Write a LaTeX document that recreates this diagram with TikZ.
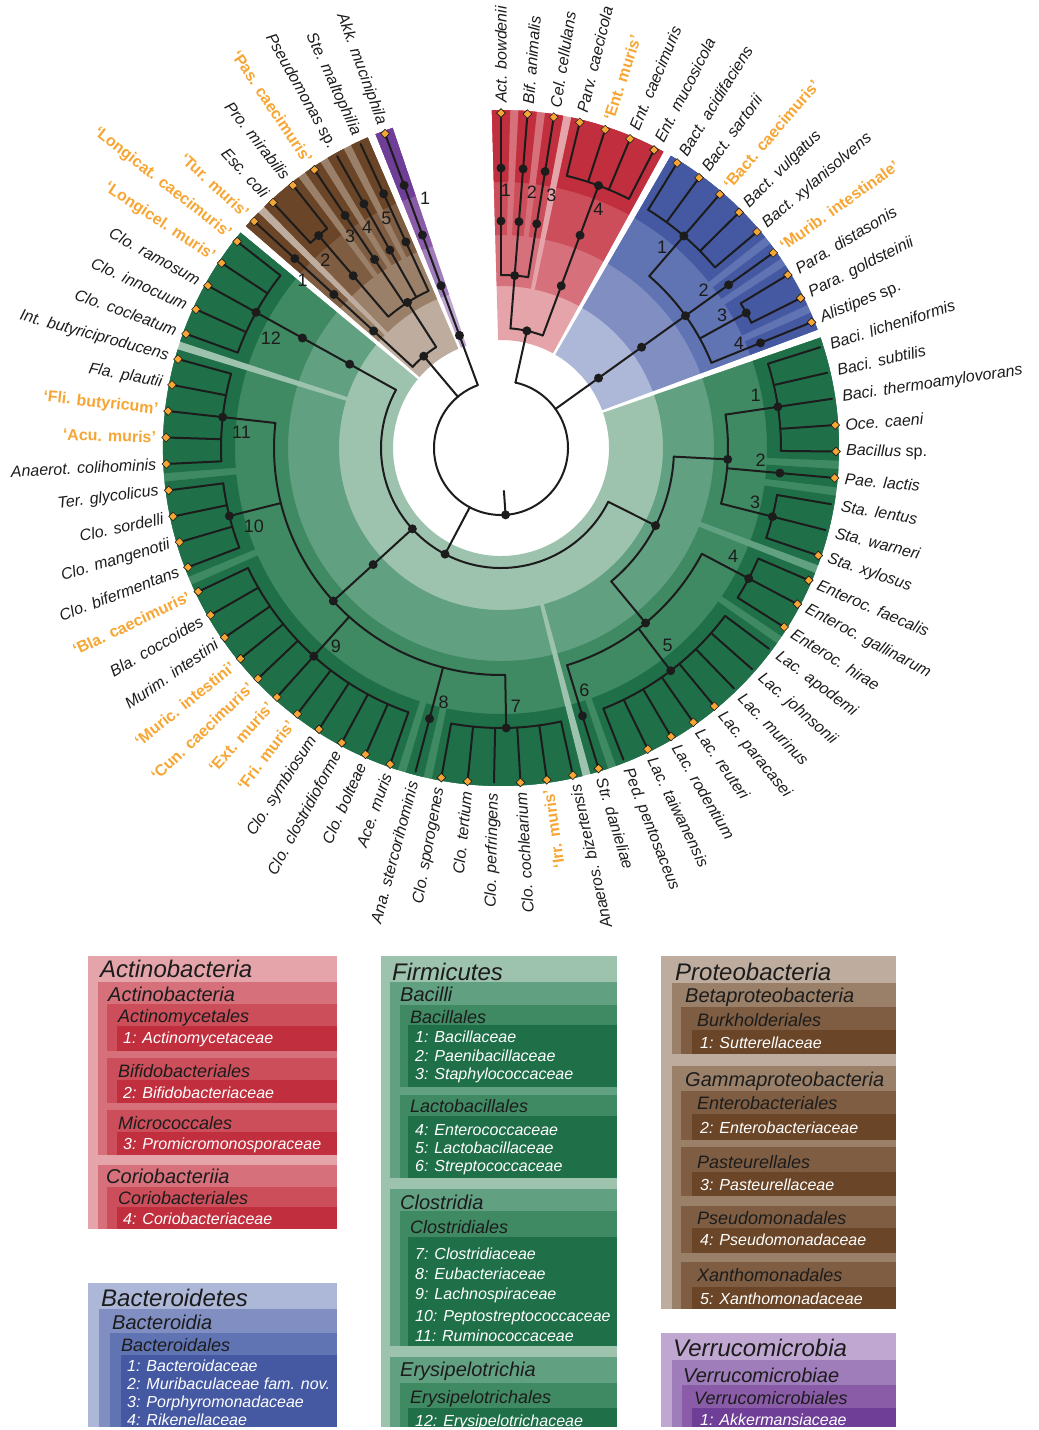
\documentclass[tikz,border=0pt]{standalone}
\usepackage{fontspec}
\setmainfont{Liberation Sans}
\usetikzlibrary{shapes.geometric}
\definecolor{cink}{HTML}{1C1C1C}
\definecolor{corange}{HTML}{F6A634}
\definecolor{cred1}{HTML}{E5A4AA}
\definecolor{cred2}{HTML}{D6707A}
\definecolor{cred3}{HTML}{CB4E5A}
\definecolor{cred4}{HTML}{C12F3E}
\definecolor{cblue1}{HTML}{ADB7D8}
\definecolor{cblue2}{HTML}{808EC2}
\definecolor{cblue3}{HTML}{6073B3}
\definecolor{cblue4}{HTML}{4559A3}
\definecolor{cgreen1}{HTML}{9DC3AF}
\definecolor{cgreen2}{HTML}{62A082}
\definecolor{cgreen3}{HTML}{3F8A63}
\definecolor{cgreen4}{HTML}{1F7048}
\definecolor{cbrown1}{HTML}{BEAD9E}
\definecolor{cbrown2}{HTML}{9A8068}
\definecolor{cbrown3}{HTML}{7E5D42}
\definecolor{cbrown4}{HTML}{6A4527}
\definecolor{cpurple1}{HTML}{C0A7D1}
\definecolor{cpurple2}{HTML}{9F7CBA}
\definecolor{cpurple3}{HTML}{8A5CA8}
\definecolor{cpurple4}{HTML}{6F3E96}
\tikzset{
Edge/.style={
	draw=cink,
	line width=2pt,
	line cap=round
},
Knot/.style={
	circle, fill=cink,
	inner sep=0, minimum size=9pt
},
StdTip/.style={
	diamond, draw=cink, fill=corange,
	line width=0.6pt,
	inner sep=0, minimum size=9pt
},
IsoTip/.style={
	StdTip
},
BareTip/.style={
	inner sep=0, minimum size=0pt
},
StdLabel/.style={
	font=\fontsize{16}{18}\selectfont\itshape,
	text=cink, inner sep=1pt
},
BareLabel/.style={
	StdLabel
},
IsoLabel/.style={
	font=\fontsize{16}{18}\selectfont\bfseries,
	text=corange, inner sep=1pt
},
FamNum/.style={
	font=\fontsize{18}{20}\selectfont,
	text=cink, inner sep=0
},
LegPhylum/.style={
	anchor=base west, inner sep=0,
	font=\fontsize{24}{26}\selectfont\itshape,
	text=cink
},
LegClass/.style={
	LegPhylum,
	font=\fontsize{20}{22}\selectfont\itshape
},
LegOrder/.style={
	LegPhylum,
	font=\fontsize{18}{20}\selectfont\itshape
},
LegFamily/.style={
	LegPhylum,
	font=\fontsize{16}{18}\selectfont\itshape,
	text=white
}
}
\newcommand\Band[4]{%
	\pgfmathsetmacro\bandA{90-4.53*#3+1.55}%
	\pgfmathsetmacro\bandB{90-4.53*#4-1.55}%
	\fill[#1] (\bandA:#2) arc[start angle=\bandA, end angle=\bandB, radius=#2]
		-- (\bandB:338) arc[start angle=\bandB, end angle=\bandA, radius=338] -- cycle;}
\newcommand\Stem[3]{\draw[Edge] (#1:#2) -- (#1:#3);}
\newcommand\Span[3]{\draw[Edge] (#2:#1) arc[start angle=#2, end angle=#3, radius=#1];}

\begin{document}
\begin{tikzpicture}[x=1pt, y=1pt]
	\useasboundingbox (0,0) rectangle (1039,-1430);
	\begin{scope}[shift={(501,-448)}]
	% coloured taxon bands
	\Band{cred1}{108}{0}{6}
	\Band{cblue1}{108}{7}{15}
	\Band{cgreen1}{108}{16}{68}
	\Band{cbrown1}{108}{69}{74}
	\Band{cpurple1}{108}{75}{75}
	\foreach \p/\q in {0/2, 3/6} {\Band{cred2}{162}{\p}{\q}}
	\foreach \p/\q in {0/0, 1/1, 2/2, 3/6} {\Band{cred3}{213}{\p}{\q}}
	\foreach \p/\q in {0/0, 1/1, 2/2, 3/6} {\Band{cred4}{266}{\p}{\q}}
	\Band{cblue2}{162}{7}{15}
	\Band{cblue3}{213}{7}{15}
	\foreach \p/\q in {7/11, 12/12, 13/14, 15/15} {\Band{cblue4}{266}{\p}{\q}}
	\foreach \p/\q in {16/36, 37/63, 64/68} {\Band{cgreen2}{162}{\p}{\q}}
	\foreach \p/\q in {16/24, 25/36, 37/63, 64/68} {\Band{cgreen3}{213}{\p}{\q}}
	\foreach \p/\q in {16/20, 21/21, 22/24, 25/27, 28/35, 36/36, 37/42, 43/43, 44/54, 55/58, 59/63, 64/68} {\Band{cgreen4}{266}{\p}{\q}}
	\foreach \p/\q in {69/69, 70/74} {\Band{cbrown2}{162}{\p}{\q}}
	\foreach \p/\q in {69/69, 70/71, 72/72, 73/73, 74/74} {\Band{cbrown3}{213}{\p}{\q}}
	\foreach \p/\q in {69/69, 70/71, 72/72, 73/73, 74/74} {\Band{cbrown4}{266}{\p}{\q}}
	\Band{cpurple2}{162}{75}{75}
	\Band{cpurple3}{213}{75}{75}
	\Band{cpurple4}{266}{75}{75}

	% root
	\Span{67}{77.5425}{-249.75}
	\Stem{-86.104}{43}{67}
	% Actinobacteria
	\Stem{77.5425}{67}{120}
	\Span{120}{85.47}{69.615}
	\Stem{85.47}{120}{173}
	\Span{173}{90}{80.94}
	\Stem{69.615}{120}{280}
	\Span{280}{76.41}{62.82}
	% Bacteroidetes
	\Stem{35.64}{67}{227}
	\Span{227}{49.23}{22.05}
	\Stem{49.23}{227}{280}
	\Span{280}{58.29}{40.17}
	\Stem{28.845}{227}{280}
	\Span{280}{31.11}{26.58}
	% Firmicutes
	\Stem{-117.81}{67}{120}
	\Span{120}{-26.6475}{-208.98}
	\Stem{-26.6475}{120}{173}
	\Span{173}{-2.865}{-50.43}
	\Stem{-2.865}{173}{227}
	\Span{227}{8.46}{-14.19}
	\Stem{8.46}{227}{280}
	\Span{280}{17.52}{-0.60}
	\Stem{-14.19}{227}{280}
	\Span{280}{-9.66}{-18.72}
	\Stem{-50.43}{173}{227}
	\Span{227}{-27.78}{-73.08}
	\Stem{-27.78}{227}{280}
	\Span{280}{-23.25}{-32.31}
	\Stem{-52.695}{227}{280}
	\Span{280}{-36.84}{-68.55}
	\Stem{-137.6325}{120}{227}
	\Span{227}{-88.935}{-186.33}
	\Stem{-88.935}{227}{280}
	\Span{280}{-77.61}{-100.26}
	\Stem{-131.97}{227}{280}
	\Span{280}{-109.32}{-154.62}
	\Stem{-165.945}{227}{280}
	\Span{280}{-159.15}{-172.74}
	\Stem{-186.33}{227}{280}
	\Span{280}{-177.27}{-195.39}
	\Stem{-208.98}{120}{280}
	\Span{280}{-199.92}{-218.04}
	% Proteobacteria
	\Stem{-229.93}{67}{120}
	\Span{120}{-222.57}{-237.2925}
	\Stem{-237.2925}{120}{173}
	\Span{173}{-229.365}{-245.22}
	\Stem{-229.365}{173}{280}
	\Span{280}{-227.10}{-231.63}

	% leaves
	\foreach \i/\taxname/\kind/\rbase in {
		0/Act. bowdenii/Std/173, 1/Bif. animalis/Std/173, 2/Cel. cellulans/Std/173,
		3/Parv. caecicola/Std/280, 4/‘Ent. muris’/Iso/280, 5/Ent. caecimuris/Std/280,
		6/Ent. mucosicola/Std/280, 7/Bact. acidifaciens/Std/280, 8/Bact. sartorii/Std/280,
		9/‘Bact. caecimuris’/Iso/280, 10/Bact. vulgatus/Std/280, 11/Bact. xylanisolvens/Std/280,
		12/‘Murib. intestinale’/Iso/227, 13/Para. distasonis/Std/280, 14/Para. goldsteinii/Std/280,
		15/{Alistipes \upshape sp.}/Std/227, 16/Baci. licheniformis/Bare/280, 17/Baci. subtilis/Bare/280,
		18/Baci. thermoamylovorans/Bare/280, 19/Oce. caeni/Std/280, 20/{Bacillus \upshape sp.}/Std/280,
		21/Pae. lactis/Std/227, 22/Sta. lentus/Bare/280, 23/Sta. warneri/Bare/280,
		24/Sta. xylosus/Std/280, 25/Enteroc. faecalis/Std/280, 26/Enteroc. gallinarum/Std/280,
		27/Enteroc. hirae/Std/280, 28/Lac. apodemi/Bare/280, 29/Lac. johnsonii/Bare/280,
		30/Lac. murinus/Bare/280, 31/Lac. paracasei/Std/280, 32/Lac. reuteri/Std/280,
		33/Lac. rodentium/Std/280, 34/Lac. taiwanensis/Std/280, 35/Ped. pentosaceus/Bare/280,
		36/Str. danieliae/Std/227, 37/Anaeros. bizertensis/Std/280, 38/‘Irr. muris’/Iso/280,
		39/Clo. cochlearium/Std/280, 40/Clo. perfringens/Bare/280, 41/Clo. tertium/Std/280,
		42/Clo. sporogenes/Std/280, 43/Ana. stercorihominis/Bare/227, 44/Ace. muris/Std/280,
		45/Clo. bolteae/Std/280, 46/Clo. clostridioforme/Std/280, 47/Clo. symbiosum/Std/280,
		48/‘Fri. muris’/Iso/280, 49/‘Ext. muris’/Iso/280, 50/‘Cun. caecimuris’/Iso/280,
		51/‘Muric. intestini’/Iso/280, 52/Murim. intestini/Std/280, 53/Bla. coccoides/Std/280,
		54/‘Bla. caecimuris’/Iso/280, 55/Clo. bifermentans/Std/280, 56/Clo. mangenotii/Std/280,
		57/Clo. sordelli/Std/280, 58/Ter. glycolicus/Std/280, 59/Anaerot. colihominis/Std/280,
		60/‘Acu. muris’/Iso/280, 61/‘Fli. butyricum’/Iso/280, 62/Fla. plautii/Std/280,
		63/Int. butyriciproducens/Std/280, 64/Clo. cocleatum/Std/280, 65/Clo. innocuum/Std/280,
		66/Clo. ramosum/Std/280, 67/‘Longicel. muris’/Iso/280, 68/‘Longicat. caecimuris’/Iso/280,
		69/‘Tur. muris’/Iso/120, 70/Esc. coli/Std/280, 71/Pro. mirabilis/Std/280,
		72/‘Pas. caecimuris’/Iso/173, 73/{Pseudomonas \upshape sp.}/Bare/173, 74/Ste. maltophilia/Bare/173,
		75/Akk. muciniphila/Std/67}{
		\pgfmathsetmacro\ang{90-4.53*\i}
		\node[\kind Tip] (l\i) at (\ang:335) {};
		\draw[Edge] (\ang:\rbase) -- (l\i);
		\ifnum\i<37
			\node[\kind Label, anchor=west, rotate=\ang] (t\i) at (\ang:344) {\taxname};
		\else
			\pgfmathsetmacro\labrot{\ang+180}
			\node[\kind Label, anchor=east, rotate=\labrot] (t\i) at (\ang:344) {\taxname};
		\fi
	}

	% rank knots
	\node[Knot] (root) at (-86.104:67) {};
	\node[Knot] (pAct) at (77.5425:120) {};
	\node[Knot] (cAct) at (85.47:173) {};
	\node[Knot] (oAct) at (90:227) {};
	\node[Knot] (fAct) at (90:280) {};
	\node[Knot] (oBif) at (85.47:227) {};
	\node[Knot] (fBif) at (85.47:280) {};
	\node[Knot] (oMic) at (80.94:227) {};
	\node[Knot] (fMic) at (80.94:280) {};
	\node[Knot] (cCor) at (69.615:173) {};
	\node[Knot] (oCor) at (69.615:227) {};
	\node[Knot] (fCor) at (69.615:280) {};
	\node[Knot] (pBac) at (35.64:120) {};
	\node[Knot] (cBac) at (35.64:173) {};
	\node[Knot] (oBac) at (35.64:227) {};
	\node[Knot] (fBact) at (49.23:280) {};
	\node[Knot] (fMur) at (35.64:280) {};
	\node[Knot] (fPor) at (28.845:280) {};
	\node[Knot] (fRik) at (22.05:280) {};
	\node[Knot] (pFir) at (-117.81:120) {};
	\node[Knot] (xClo) at (-137.6325:120) {};
	\node[Knot] (cBacil) at (-26.6475:173) {};
	\node[Knot] (oBacil) at (-2.865:227) {};
	\node[Knot] (fBacil) at (8.46:280) {};
	\node[Knot] (fPae) at (-5.13:280) {};
	\node[Knot] (fSta) at (-14.19:280) {};
	\node[Knot] (oLac) at (-50.43:227) {};
	\node[Knot] (fEnt) at (-27.78:280) {};
	\node[Knot] (fLac) at (-52.695:280) {};
	\node[Knot] (fStr) at (-73.08:280) {};
	\node[Knot] (cClo) at (-137.6325:173) {};
	\node[Knot] (oClo) at (-137.6325:227) {};
	\node[Knot] (fClo) at (-88.935:280) {};
	\node[Knot] (fEub) at (-104.79:280) {};
	\node[Knot] (fLach) at (-131.97:280) {};
	\node[Knot] (fPep) at (-165.945:280) {};
	\node[Knot] (fRum) at (-186.33:280) {};
	\node[Knot] (cEry) at (-208.98:173) {};
	\node[Knot] (oEry) at (-208.98:227) {};
	\node[Knot] (fEry) at (-208.98:280) {};
	\node[Knot] (pPro) at (-229.93:120) {};
	\node[Knot] (cBet) at (-222.57:173) {};
	\node[Knot] (oBur) at (-222.57:227) {};
	\node[Knot] (fSut) at (-222.57:280) {};
	\node[Knot] (cGam) at (-237.2925:173) {};
	\node[Knot] (oEnb) at (-229.365:227) {};
	\node[Knot] (fEnb) at (-229.365:280) {};
	\node[Knot] (oPas) at (-236.16:227) {};
	\node[Knot] (fPas) at (-236.16:280) {};
	\node[Knot] (oPse) at (-240.69:227) {};
	\node[Knot] (fPse) at (-240.69:280) {};
	\node[Knot] (oXan) at (-245.22:227) {};
	\node[Knot] (fXan) at (-245.22:280) {};
	\node[Knot] (pVer) at (-249.75:120) {};
	\node[Knot] (cVer) at (-249.75:173) {};
	\node[Knot] (oVer) at (-249.75:227) {};
	\node[Knot] (fVer) at (-249.75:280) {};

	% family numbers
	\foreach \fa/\fr/\fn [count=\k] in {88.9/258/1, 83.1/258/2, 78.75/258/3, 67.8/258/4,
		51.2/257/1, 38/257/2, 31/258/3, 23.8/260/4,
		11.75/260/1, -2.8/260/2, -12.1/260/3, -25/256/4, -49.8/258/5, -71/256/6,
		-86.7/259/7, -102.7/261/8, -129.8/258/9, -162.5/259/10, 176.5/260/11, 154.5/255/12,
		139.7/260/1, 133.1/257/2, 125.5/260/3, 121.25/258/4, 116.5/257/5, 106.9/261/1}
		\node[FamNum] (num\k) at (\fa:\fr) {\fn};
	\end{scope}

	% key: Actinobacteria
	\fill[cred1] (88,-956) rectangle (337,-1229);
	\fill[cred2] (98,-982) rectangle (337,-1155);
	\fill[cred2] (98,-1165) rectangle (337,-1229);
	\foreach \yt/\yb in {1004/1051, 1058/1103, 1110/1155, 1187/1229}
		\fill[cred3] (107,-\yt) rectangle (337,-\yb);
	\foreach \yt/\yb in {1026/1051, 1080/1103, 1132/1155, 1207/1229}
		\fill[cred4] (117,-\yt) rectangle (337,-\yb);
	\node[LegPhylum] (kAct) at (100,-977) {Actinobacteria};
	\node[LegClass] (kActC) at (108,-1001) {Actinobacteria};
	\node[LegOrder] (kActO1) at (118,-1022.5) {Actinomycetales};
	\node[LegFamily] (kActF1) at (123,-1043.5) {1: Actinomycetaceae};
	\node[LegOrder] (kActO2) at (118,-1077) {Bifidobacteriales};
	\node[LegFamily] (kActF2) at (123,-1098.5) {2: Bifidobacteriaceae};
	\node[LegOrder] (kActO3) at (118,-1129.5) {Micrococcales};
	\node[LegFamily] (kActF3) at (123,-1149) {3: Promicromonosporaceae};
	\node[LegClass] (kCorC) at (106,-1183.5) {Coriobacteriia};
	\node[LegOrder] (kCorO) at (118,-1204.5) {Coriobacteriales};
	\node[LegFamily] (kCorF) at (123,-1224.5) {4: Coriobacteriaceae};

	% key: Bacteroidetes
	\fill[cblue1] (88,-1283) rectangle (337,-1427);
	\fill[cblue2] (99,-1309) rectangle (337,-1427);
	\fill[cblue3] (110,-1333) rectangle (337,-1427);
	\fill[cblue4] (121,-1355) rectangle (337,-1427);
	\node[LegPhylum] (kBac) at (101,-1306) {Bacteroidetes};
	\node[LegClass] (kBacC) at (112,-1329) {Bacteroidia};
	\node[LegOrder] (kBacO) at (121,-1351.5) {Bacteroidales};
	\node[LegFamily] (kBacF1) at (127,-1371.4) {1: Bacteroidaceae};
	\node[LegFamily] (kBacF2) at (127,-1389) {2: Muribaculaceae fam. nov.};
	\node[LegFamily] (kBacF3) at (127,-1407.4) {3: Porphyromonadaceae};
	\node[LegFamily] (kBacF4) at (127,-1425.7) {4: Rikenellaceae};

	% key: Firmicutes
	\fill[cgreen1] (381,-956) rectangle (617,-1427);
	\fill[cgreen2] (390,-982) rectangle (617,-1178);
	\fill[cgreen2] (390,-1189) rectangle (617,-1346);
	\fill[cgreen2] (390,-1357) rectangle (617,-1427);
	\foreach \yt/\yb in {1005/1087, 1095/1178, 1211/1346, 1383/1427}
		\fill[cgreen3] (400,-\yt) rectangle (617,-\yb);
	\foreach \yt/\yb in {1025/1087, 1116/1178, 1237/1346, 1408/1427}
		\fill[cgreen4] (408,-\yt) rectangle (617,-\yb);
	\node[LegPhylum] (kFir) at (392,-980) {Firmicutes};
	\node[LegClass] (kFirC1) at (400,-1001) {Bacilli};
	\node[LegOrder] (kFirO1) at (410,-1023) {Bacillales};
	\node[LegFamily] (kFirF1) at (415,-1042.4) {1: Bacillaceae};
	\node[LegFamily] (kFirF2) at (415,-1061.4) {2: Paenibacillaceae};
	\node[LegFamily] (kFirF3) at (415,-1079.7) {3: Staphylococcaceae};
	\node[LegOrder] (kFirO2) at (410,-1112.2) {Lactobacillales};
	\node[LegFamily] (kFirF4) at (415,-1135) {4: Enterococcaceae};
	\node[LegFamily] (kFirF5) at (415,-1153) {5: Lactobacillaceae};
	\node[LegFamily] (kFirF6) at (415,-1171.4) {6: Streptococcaceae};
	\node[LegClass] (kFirC2) at (400,-1209.5) {Clostridia};
	\node[LegOrder] (kFirO3) at (410,-1233.8) {Clostridiales};
	\node[LegFamily] (kFirF7) at (415,-1259) {7: Clostridiaceae};
	\node[LegFamily] (kFirF8) at (415,-1279.7) {8: Eubacteriaceae};
	\node[LegFamily] (kFirF9) at (415,-1299.7) {9: Lachnospiraceae};
	\node[LegFamily] (kFirF10) at (415,-1321.4) {10: Peptostreptococcaceae};
	\node[LegFamily] (kFirF11) at (415,-1341.4) {11: Ruminococcaceae};
	\node[LegClass] (kFirC3) at (400,-1376.2) {Erysipelotrichia};
	\node[LegOrder] (kFirO4) at (410,-1403.2) {Erysipelotrichales};
	\node[LegFamily] (kFirF12) at (415,-1426) {12: Erysipelotrichaceae};

	% key: Proteobacteria
	\fill[cbrown1] (661,-956) rectangle (896,-1309);
	\fill[cbrown2] (672,-983) rectangle (896,-1054);
	\fill[cbrown2] (672,-1066) rectangle (896,-1309);
	\foreach \yt/\yb in {1007/1054, 1091/1140, 1147/1196, 1206/1253, 1262/1309}
		\fill[cbrown3] (681,-\yt) rectangle (896,-\yb);
	\foreach \yt/\yb in {1030/1054, 1114/1140, 1172/1196, 1228/1253, 1287/1309}
		\fill[cbrown4] (692,-\yt) rectangle (896,-\yb);
	\node[LegPhylum] (kPro) at (675,-980) {Proteobacteria};
	\node[LegClass] (kProC1) at (685,-1002.2) {Betaproteobacteria};
	\node[LegOrder] (kProO1) at (697,-1026.5) {Burkholderiales};
	\node[LegFamily] (kProF1) at (700,-1048.4) {1: Sutterellaceae};
	\node[LegClass] (kProC2) at (685,-1086.5) {Gammaproteobacteria};
	\node[LegOrder] (kProO2) at (697,-1109.8) {Enterobacteriales};
	\node[LegFamily] (kProF2) at (700,-1133.4) {2: Enterobacteriaceae};
	\node[LegOrder] (kProO3) at (697,-1168.8) {Pasteurellales};
	\node[LegFamily] (kProF3) at (700,-1190) {3: Pasteurellaceae};
	\node[LegOrder] (kProO4) at (697,-1224.8) {Pseudomonadales};
	\node[LegFamily] (kProF4) at (700,-1245.7) {4: Pseudomonadaceae};
	\node[LegOrder] (kProO5) at (697,-1281.5) {Xanthomonadales};
	\node[LegFamily] (kProF5) at (700,-1304) {5: Xanthomonadaceae};

	% key: Verrucomicrobia
	\fill[cpurple1] (661,-1333) rectangle (896,-1427);
	\fill[cpurple2] (672,-1360) rectangle (896,-1427);
	\fill[cpurple3] (682,-1385) rectangle (896,-1427);
	\fill[cpurple4] (692,-1408) rectangle (896,-1427);
	\node[LegPhylum] (kVer) at (673,-1356) {Verrucomicrobia};
	\node[LegClass] (kVerC) at (683,-1382.2) {Verrucomicrobiae};
	\node[LegOrder] (kVerO) at (694,-1404.8) {Verrucomicrobiales};
	\node[LegFamily] (kVerF) at (700,-1425.7) {1: Akkermansiaceae};
\end{tikzpicture}
\end{document}
